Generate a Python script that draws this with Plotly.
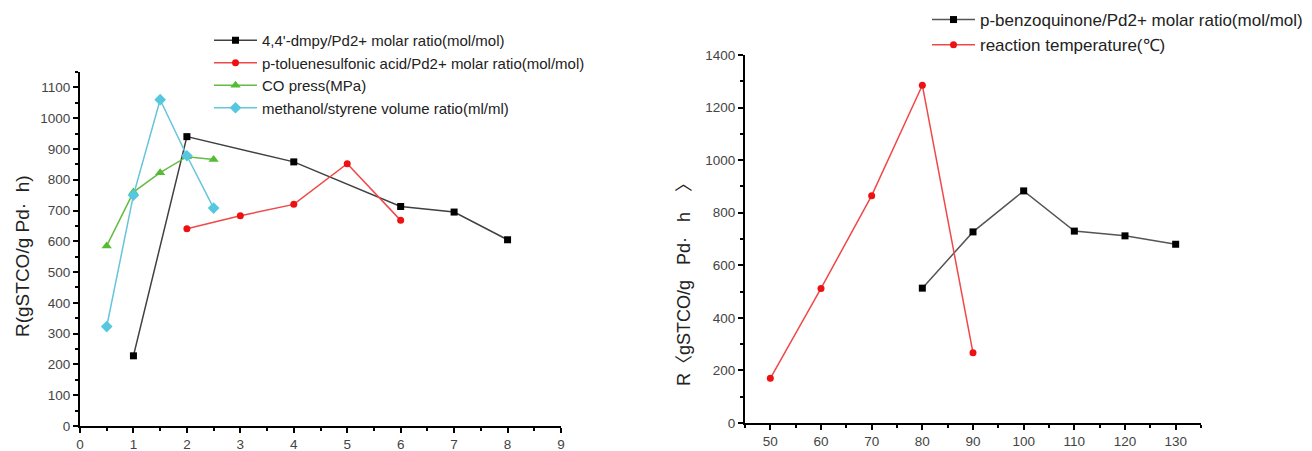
import plotly.graph_objects as go

# Left panel data
dmpy_x = [1, 2, 4, 6, 7, 8]
dmpy_y = [228, 940, 858, 713, 695, 605]
tsa_x = [2, 3, 4, 5, 6]
tsa_y = [641, 683, 720, 852, 668]
co_x = [0.5, 1, 1.5, 2, 2.5]
co_y = [585, 760, 823, 875, 866]
meoh_x = [0.5, 1, 1.5, 2, 2.5]
meoh_y = [323, 750, 1060, 878, 708]

# Right panel data
bq_x = [80, 90, 100, 110, 120, 130]
bq_y = [513, 727, 883, 730, 712, 680]
temp_x = [50, 60, 70, 80, 90]
temp_y = [170, 512, 865, 1285, 267]

left_names = ["4,4'-dmpy/Pd2+ molar ratio(mol/mol)",
              "p-toluenesulfonic acid/Pd2+ molar ratio(mol/mol)",
              "CO press(MPa)",
              "methanol/styrene volume ratio(ml/ml)"]
right_names = ["p-benzoquinone/Pd2+ molar ratio(mol/mol)",
               "reaction temperature(℃)"]

FONT = "Liberation Sans, Arial, sans-serif"
W, H = 1304, 443

fig = go.Figure()

def add(x, y, name, lc, mc, sym, ms, xa, ya, leg):
    fig.add_trace(go.Scatter(
        x=x, y=y, name=name, mode="lines+markers",
        line=dict(color=lc, width=1.5),
        marker=dict(color=mc, symbol=sym, size=ms),
        xaxis=xa, yaxis=ya, legend=leg))

add(dmpy_x, dmpy_y, left_names[0], "#404040", "#000000", "square", 7, "x", "y", "legend")
add(tsa_x, tsa_y, left_names[1], "#f04848", "#ee1111", "circle", 7, "x", "y", "legend")
add(co_x, co_y, left_names[2], "#66bb44", "#55bb33", "triangle-up", 9, "x", "y", "legend")
add(meoh_x, meoh_y, left_names[3], "#66c4dd", "#55c8e0", "diamond", 9, "x", "y", "legend")

add(bq_x, bq_y, right_names[0], "#555555", "#000000", "square", 7, "x2", "y2", "legend2")
add(temp_x, temp_y, right_names[1], "#f04848", "#ee1111", "circle", 7, "x2", "y2", "legend2")

axis_common = dict(showline=True, linecolor="black", linewidth=2, ticks="outside",
                   ticklen=5, tickwidth=2, tickcolor="black", showgrid=False, zeroline=False,
                   automargin=False,
                   tickfont=dict(family=FONT, size=13.5, color="#444444"))

NB = "\u00a0"

fig.update_layout(
    width=W, height=H,
    margin=dict(l=0, r=0, t=0, b=0, autoexpand=False),
    paper_bgcolor="white", plot_bgcolor="white",
    font=dict(family=FONT, color="#222222"),
    xaxis=dict(domain=[72 / W, 553 / W], range=[0, 9], dtick=1, anchor="y",
               minor=dict(ticks="outside", ticklen=3, dtick=0.5, tickcolor="black", tickwidth=2),
               **axis_common),
    yaxis=dict(domain=[1 - 418 / H, 1 - 64 / H], range=[0, 1150], dtick=100, anchor="x",
               minor=dict(ticks="outside", ticklen=3, dtick=50, tickcolor="black", tickwidth=2),
               **axis_common),
    xaxis2=dict(domain=[737 / W, 1193 / W], range=[45, 135], tick0=50, dtick=10, anchor="y2",
                minor=dict(ticks="outside", ticklen=3, dtick=5, tick0=45, tickcolor="black", tickwidth=2),
                **axis_common),
    yaxis2=dict(domain=[1 - 415 / H, 1 - 47 / H], range=[0, 1400], dtick=200, anchor="x2",
                minor=dict(ticks="outside", ticklen=3, dtick=100, tickcolor="black", tickwidth=2),
                **axis_common),
    legend=dict(x=201 / W, y=1 - 16 / H, xanchor="left", yanchor="top",
                bgcolor="rgba(0,0,0,0)", font=dict(family=FONT, size=15, color="#222222"),
                tracegroupgap=0, itemwidth=43),
    legend2=dict(x=919 / W, y=1 + 6 / H, xanchor="left", yanchor="top",
                 bgcolor="rgba(0,0,0,0)", font=dict(family=FONT, size=17, color="#222222"),
                 tracegroupgap=0, itemwidth=43),
    annotations=[
        dict(text="R(gSTCO/g Pd·" + NB * 2 + "h)", x=14 / W, y=1 - 248 / H,
             xref="paper", yref="paper", xanchor="center", yanchor="middle",
             textangle=-90, showarrow=False, font=dict(family=FONT, size=19, color="#222222")),
        dict(text="R〈gSTCO/g" + NB * 3 + "Pd·" + NB * 3 + "h" + NB * 4 + "〉",
             x=676 / W, y=1 - 272 / H, xref="paper", yref="paper",
             xanchor="center", yanchor="middle", textangle=-90, showarrow=False,
             font=dict(family="Liberation Sans, Noto Sans CJK SC, sans-serif", size=18, color="#222222")),
    ],
)

fig.write_html("out.html")
